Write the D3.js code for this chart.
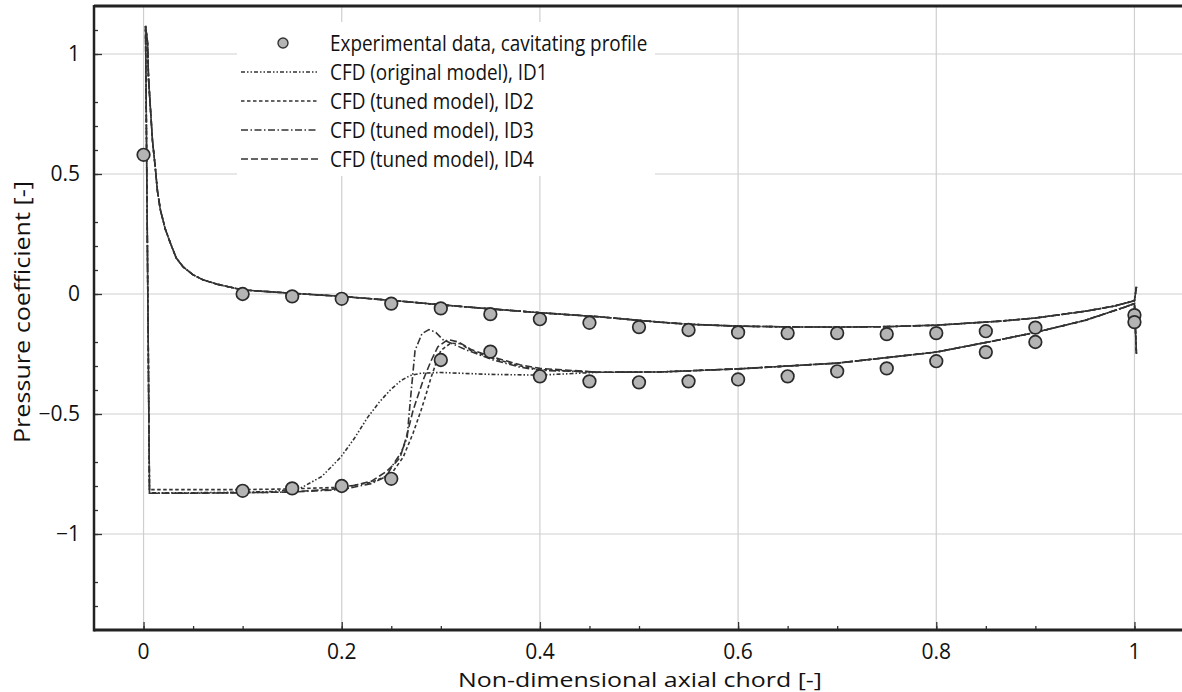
<!DOCTYPE html>
<html>
<head>
<meta charset="utf-8">
<script src="https://cdn.jsdelivr.net/npm/d3@7"></script>
<style>
	body { margin: 0; background: #fff; }
	svg { display: block; font-family: "Open Sans", "DejaVu Sans", sans-serif; }
</style>
</head>
<body>
<svg id="chart" width="1182" height="692"></svg>
<script>
var xTicks = [0, 0.2, 0.4, 0.6, 0.8, 1],
	yTicks = [-1, -0.5, 0, 0.5, 1];

// experimental data, cavitating profile
var expLE = [[0, 0.58]],
	expX = [0.1, 0.15, 0.2, 0.25, 0.3, 0.35, 0.4, 0.45, 0.5, 0.55, 0.6, 0.65, 0.7, 0.75, 0.8, 0.85, 0.9],
	expPressure = [0.0, -0.01, -0.02, -0.04, -0.06, -0.084, -0.105, -0.12, -0.138, -0.15, -0.16, -0.163, -0.163, -0.167, -0.163, -0.155, -0.14],
	expSuction = [-0.82, -0.81, -0.80, -0.77, -0.275, -0.24, -0.343, -0.364, -0.368, -0.364, -0.356, -0.343, -0.322, -0.31, -0.28, -0.242, -0.2],
	expTE = [[1.0, -0.088], [1.0, -0.117]];

// CFD pressure side (same for all runs), from trailing edge to leading edge peak
var cfdPressure = [[1.002, 0.03], [1.0, -0.028], [0.98, -0.05], [0.95, -0.072], [0.9, -0.1], [0.865, -0.113],
	[0.8, -0.13], [0.75, -0.136], [0.7, -0.138], [0.65, -0.137], [0.6, -0.134], [0.55, -0.126], [0.52, -0.117],
	[0.46, -0.095], [0.4, -0.078], [0.35, -0.062], [0.3, -0.045], [0.26, -0.03], [0.2, -0.01], [0.15, 0.003],
	[0.1, 0.017], [0.088, 0.028], [0.075, 0.04], [0.06, 0.059], [0.05, 0.08], [0.04, 0.113], [0.033, 0.15],
	[0.027, 0.213], [0.022, 0.27], [0.017, 0.35], [0.014, 0.43], [0.012, 0.52], [0.009, 0.64], [0.007, 0.77],
	[0.005, 0.9], [0.004, 1.05], [0.002, 1.117]];

// suction side, rear part where the runs collapse
var cfdSuctionTail = [[0.46, -0.326], [0.52, -0.325], [0.6, -0.312], [0.7, -0.288], [0.8, -0.242],
	[0.865, -0.19], [0.9, -0.16], [0.95, -0.11], [0.99, -0.055], [1.0, -0.04], [1.002, -0.25]];

var suctionID1 = [[0.006, -0.828], [0.05, -0.828], [0.1, -0.826], [0.13, -0.823], [0.158, -0.81], [0.18, -0.76],
	[0.199, -0.68], [0.213, -0.6], [0.226, -0.515], [0.238, -0.45], [0.249, -0.4], [0.26, -0.36], [0.269, -0.34],
	[0.28, -0.33], [0.3, -0.327], [0.35, -0.335], [0.4, -0.338]];
var suctionID2 = [[0.006, -0.815], [0.05, -0.815], [0.1, -0.815], [0.15, -0.812], [0.2, -0.805], [0.23, -0.785],
	[0.25, -0.75], [0.262, -0.68], [0.272, -0.58], [0.28, -0.485], [0.285, -0.42], [0.29, -0.35], [0.295, -0.29],
	[0.3, -0.235], [0.31, -0.205], [0.32, -0.207], [0.33, -0.235], [0.35, -0.265], [0.38, -0.3], [0.4, -0.315]];
var suctionID3 = [[0.006, -0.83], [0.05, -0.83], [0.1, -0.828], [0.15, -0.825], [0.2, -0.815], [0.23, -0.79],
	[0.245, -0.76], [0.252, -0.71], [0.26, -0.66], [0.266, -0.6], [0.268, -0.5], [0.27, -0.41], [0.274, -0.235],
	[0.281, -0.165], [0.288, -0.148], [0.295, -0.16], [0.302, -0.19], [0.327, -0.235], [0.353, -0.275],
	[0.38, -0.305], [0.4, -0.318]];
var suctionID4 = [[0.006, -0.83], [0.05, -0.83], [0.1, -0.828], [0.15, -0.825], [0.2, -0.81], [0.23, -0.78],
	[0.245, -0.74], [0.255, -0.7], [0.259, -0.68], [0.265, -0.6], [0.272, -0.485], [0.278, -0.41], [0.283, -0.35],
	[0.29, -0.28], [0.297, -0.22], [0.307, -0.19], [0.318, -0.2], [0.33, -0.23], [0.35, -0.26], [0.38, -0.295],
	[0.4, -0.31]];

var seriesNames = ["CFD (original model), ID1", "CFD (tuned model), ID2", "CFD (tuned model), ID3", "CFD (tuned model), ID4"],
	seriesSuction = [suctionID1, suctionID2, suctionID3, suctionID4],
	seriesDash = ["4,2,1.5,2,1.5,2", "3.5,2.5", "7,2.5,1.5,2.5", "7,3"];

var svg = d3.select("#chart"),
	plotL = 94, plotT = 6, plotR = 1184, plotB = 630;

var xscale = d3.scaleLinear().domain([-0.05, 1.05]).range([plotL, plotR]),
	yscale = d3.scaleLinear().domain([-1.4, 1.2]).range([plotB, plotT]);

// squeeze a text a bit, the original font is narrower
function condense(sel, k) {
	sel.each(function () {
		var w = this.getComputedTextLength();
		d3.select(this).attr("textLength", w*k).attr("lengthAdjust", "spacingAndGlyphs");
	});
}

// grid
svg.append("g").selectAll("line").data(xTicks).enter().append("line")
	.attr("x1", d => xscale(d)).attr("x2", d => xscale(d))
	.attr("y1", plotT).attr("y2", plotB)
	.attr("stroke", "#cfcfcf").attr("stroke-width", 1.2);
svg.append("g").selectAll("line").data(yTicks).enter().append("line")
	.attr("x1", plotL).attr("x2", plotR)
	.attr("y1", d => yscale(d)).attr("y2", d => yscale(d))
	.attr("stroke", "#cfcfcf").attr("stroke-width", 1.2);

// axes, ticks pointing inward
var xMinorVals = d3.range(-1, 22).map(i => i*0.05).filter((v, i) => (i + 1) % 4 !== 1),
	yMinorVals = d3.range(-13, 12).map(i => i*0.1).filter((v, i) => (i + 13) % 5 !== 0);

var xAxis = d3.axisTop(xscale).tickValues(xTicks).tickSize(8).tickFormat(""),
	xMinor = d3.axisTop(xscale).tickValues(xMinorVals).tickSize(4).tickFormat(""),
	yAxis = d3.axisRight(yscale).tickValues(yTicks).tickSize(8).tickFormat(""),
	yMinor = d3.axisRight(yscale).tickValues(yMinorVals).tickSize(4).tickFormat("");

[xAxis, xMinor].forEach(function (ax) {
	svg.append("g").attr("transform", "translate(0," + plotB + ")").call(ax)
		.call(g => g.select(".domain").remove())
		.selectAll("line").attr("stroke", "#333").attr("stroke-width", 1.3);
});
[yAxis, yMinor].forEach(function (ax) {
	svg.append("g").attr("transform", "translate(" + plotL + ",0)").call(ax)
		.call(g => g.select(".domain").remove())
		.selectAll("line").attr("stroke", "#333").attr("stroke-width", 1.3);
});

// frame
svg.append("line").attr("x1", plotL).attr("x2", plotL).attr("y1", plotT - 1).attr("y2", plotB + 1.5)
	.attr("stroke", "#222").attr("stroke-width", 2.5);
svg.append("line").attr("x1", plotL).attr("x2", plotR).attr("y1", plotT).attr("y2", plotT)
	.attr("stroke", "#222").attr("stroke-width", 3);
svg.append("line").attr("x1", plotL).attr("x2", plotR).attr("y1", plotB).attr("y2", plotB)
	.attr("stroke", "#222").attr("stroke-width", 3);

// tick labels
svg.append("g").selectAll("text").data(xTicks).enter().append("text")
	.attr("x", d => xscale(d)).attr("y", 659)
	.attr("text-anchor", "middle").attr("font-size", 21).attr("fill", "#111")
	.text(d => d3.format("")(d));
svg.append("g").selectAll("text").data(yTicks).enter().append("text")
	.attr("x", 80).attr("y", d => yscale(d) + 7)
	.attr("text-anchor", "end").attr("font-size", 21).attr("fill", "#111")
	.text(d => d3.format("")(d));

// axis titles
svg.append("text").attr("x", 640).attr("y", 687)
	.attr("text-anchor", "middle").attr("font-size", 20).attr("fill", "#111")
	.attr("textLength", 364).attr("lengthAdjust", "spacingAndGlyphs")
	.text("Non-dimensional axial chord [-]");
svg.append("text").attr("transform", "translate(30,312) rotate(-90)")
	.attr("text-anchor", "middle").attr("font-size", 22).attr("fill", "#111")
	.attr("textLength", 262).attr("lengthAdjust", "spacingAndGlyphs")
	.text("Pressure coefficient [-]");

// CFD lines
var line = d3.line().x(d => xscale(d[0])).y(d => yscale(d[1]));
var plot = svg.append("g");
seriesSuction.forEach(function (suction, i) {
	var pts = cfdPressure.concat(suction, cfdSuctionTail);
	plot.append("path").datum(pts)
		.attr("d", line)
		.attr("fill", "none")
		.attr("stroke", "#333")
		.attr("stroke-width", 1.6)
		.attr("stroke-dasharray", seriesDash[i]);
});

// experimental points
var expPts = expLE.concat(
	expX.map((x, i) => [x, expPressure[i]]),
	expX.map((x, i) => [x, expSuction[i]]),
	expTE);
plot.append("g").selectAll("circle").data(expPts).enter().append("circle")
	.attr("cx", d => xscale(d[0])).attr("cy", d => yscale(d[1]))
	.attr("r", 6.3)
	.attr("fill", "#b4b4b4").attr("stroke", "#2a2a2a").attr("stroke-width", 1.7);

// legend
var legend = svg.append("g");
legend.append("rect").attr("x", 237).attr("y", 22).attr("width", 418).attr("height", 154).attr("fill", "#fff");
var rowY = [43, 72, 101, 130, 159];
legend.append("circle").attr("cx", 283).attr("cy", rowY[0]).attr("r", 5)
	.attr("fill", "#b4b4b4").attr("stroke", "#333").attr("stroke-width", 1.4);
legend.append("text").attr("x", 330).attr("y", rowY[0] + 7.5).attr("font-size", 21).attr("fill", "#111")
	.text("Experimental data, cavitating profile")
	.call(condense, 0.9);
seriesNames.forEach(function (name, i) {
	var y = rowY[i + 1];
	legend.append("line").attr("x1", 241).attr("x2", 318).attr("y1", y).attr("y2", y)
		.attr("stroke", "#333").attr("stroke-width", 1.5).attr("stroke-dasharray", seriesDash[i]);
	legend.append("text").attr("x", 330).attr("y", y + 7.5).attr("font-size", 21).attr("fill", "#111")
		.text(name)
		.call(condense, 0.9);
});
</script>
</body>
</html>
